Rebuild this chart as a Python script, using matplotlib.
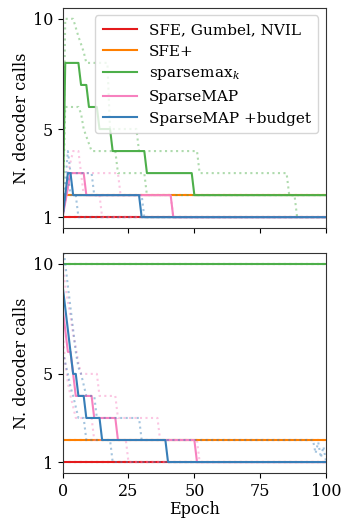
import numpy as np
import matplotlib
matplotlib.use("Agg")
import matplotlib.pyplot as plt

plt.rcParams['font.family'] = ['DejaVu Serif']
plt.rcParams['mathtext.fontset'] = 'dejavuserif'

colors = {"red": "#e41a1c", "orange": "#ff7f00", "green": "#4daf4a",
          "pink": "#f781bf", "blue": "#377eb8"}
labels = ["SFE, Gumbel, NVIL", "SFE+", "sparsemax$_k$", "SparseMAP", "SparseMAP +budget"]
keys = ["red", "orange", "green", "pink", "blue"]

# ---------------- top panel ----------------
top_red_x = [0, 100];                     top_red_y = [1, 1]
top_orange_x = [0, 100];                  top_orange_y = [2, 2]
top_green_x = [0, 1, 6, 7, 9, 10, 13, 14, 18, 19, 31, 32, 49, 50, 100]
top_green_y = [1, 8, 8, 7, 7, 6, 6, 5, 5, 4, 4, 3, 3, 2, 2]
top_green_a_x = [0, 1, 4, 6, 8, 9, 17, 18, 28, 29, 51, 52, 85, 86, 100]
top_green_a_y = [1, 10, 10, 9.2, 8.5, 8, 8, 5, 5, 4, 4, 3, 3, 2, 2]
top_green_b_x = [0, 1, 6, 7, 8, 9.5, 11, 20, 21, 31, 32, 88, 89, 100]
top_green_b_y = [1, 6, 6, 5.7, 5, 4.5, 4, 4, 3, 3, 2, 2, 1, 1]
top_pink_x = [0, 3, 8, 9, 41, 42, 100]
top_pink_y = [1, 3, 3, 2, 2, 1, 1]
top_pink_a_x = [0, 2, 4, 6, 7, 8, 14, 15, 100]
top_pink_a_y = [1, 3, 4, 4, 3, 2, 2, 1, 1]
top_pink_b_x = [0, 3, 21, 22, 41, 42, 100]
top_pink_b_y = [1, 3, 3, 2, 2, 1, 1]
top_blue_x = [0, 2, 3, 4, 29, 30, 100]
top_blue_y = [1, 3, 3, 2, 2, 1, 1]
top_blue_a_x = [0, 2, 3, 11, 12, 30, 31, 100]
top_blue_a_y = [1, 4, 3, 3, 2, 2, 1, 1]
top_blue_b_x = [0, 2, 3, 5, 6, 100]
top_blue_b_y = [1, 3, 2, 2, 1, 1]

# ---------------- bottom panel ----------------
bot_red_x = [0, 100];                     bot_red_y = [1, 1]
bot_orange_x = [0, 100];                  bot_orange_y = [2, 2]
bot_green_x = [0, 100];                   bot_green_y = [10, 10]
bot_pink_x = [0, 2, 3, 5, 11, 12, 20, 21, 50, 51, 100]
bot_pink_y = [8, 6, 6, 4, 4, 3, 3, 2, 2, 1, 1]
bot_pink_a_x = [0, 1, 2, 3, 4, 5, 6, 7, 13, 14, 20, 21, 36, 37, 51, 52, 100]
bot_pink_a_y = [10, 9, 8.3, 7.6, 6.8, 6.2, 5.5, 5, 5, 4, 4, 3, 3, 2, 2, 1, 1]
bot_pink_b_x = [0, 1, 2, 3, 4, 5, 11, 12, 24, 25, 100]
bot_pink_b_y = [7, 5.5, 4.6, 4, 3.5, 3, 3, 2, 2, 1, 1]
bot_blue_x = [0, 4, 5, 6, 8, 9, 14, 15, 39, 40, 100]
bot_blue_y = [9, 5, 5, 4, 4, 3, 3, 2, 2, 1, 1]
bot_blue_a_x = [0, 1, 2, 3, 4, 5, 6, 7, 9, 12, 13, 29, 30, 95, 96, 97, 98, 99, 100]
bot_blue_a_y = [11, 10, 9, 8, 7, 6, 5.3, 5, 4, 4, 3, 3, 2, 2, 1.4, 1.9, 1.2, 1.7, 1]
bot_blue_b_x = [0, 1, 2, 3, 4, 5, 6, 8, 9, 18, 19, 100]
bot_blue_b_y = [6, 5.5, 5, 4.4, 4, 3.5, 3, 3, 2, 2, 1, 1]

top_series = {
    "red": [(top_red_x, top_red_y)] * 3,
    "orange": [(top_orange_x, top_orange_y)] * 3,
    "green": [(top_green_x, top_green_y), (top_green_a_x, top_green_a_y), (top_green_b_x, top_green_b_y)],
    "pink": [(top_pink_x, top_pink_y), (top_pink_a_x, top_pink_a_y), (top_pink_b_x, top_pink_b_y)],
    "blue": [(top_blue_x, top_blue_y), (top_blue_a_x, top_blue_a_y), (top_blue_b_x, top_blue_b_y)],
}
bot_series = {
    "red": [(bot_red_x, bot_red_y)] * 3,
    "orange": [(bot_orange_x, bot_orange_y)] * 3,
    "green": [(bot_green_x, bot_green_y)] * 3,
    "pink": [(bot_pink_x, bot_pink_y), (bot_pink_a_x, bot_pink_a_y), (bot_pink_b_x, bot_pink_b_y)],
    "blue": [(bot_blue_x, bot_blue_y), (bot_blue_a_x, bot_blue_a_y), (bot_blue_b_x, bot_blue_b_y)],
}

fig = plt.figure(figsize=(3.44, 5.21), dpi=100)
ax1 = fig.add_axes([0.182, 0.562, 0.766, 0.423])
ax2 = fig.add_axes([0.182, 0.092, 0.766, 0.423])

for ax, series in [(ax1, top_series), (ax2, bot_series)]:
    for k, lab in zip(keys, labels):
        (mx, my), (ax_, ay_), (bx_, by_) = series[k]
        ax.plot(ax_, ay_, ls=':', lw=1.5, color=colors[k], alpha=0.45)
        ax.plot(bx_, by_, ls=':', lw=1.5, color=colors[k], alpha=0.45)
        ax.plot(mx, my, ls='-', lw=1.5, color=colors[k], label=lab)
    ax.set_xlim(0, 100)
    ax.set_ylim(0.5, 10.5)
    ax.set_yticks([1, 5, 10])
    ax.set_xticks([0, 25, 50, 75, 100])
    ax.tick_params(labelsize=11.5, length=3.5)
    ax.set_ylabel("N. decoder calls", fontsize=11.5, labelpad=2)
    for s in ax.spines.values():
        s.set_color("#333333")

ax1.tick_params(labelbottom=False)
ax2.set_xlabel("Epoch", fontsize=11.5, labelpad=1)
ax1.legend(loc="upper right", fontsize=11, handlelength=2.2, labelspacing=0.5,
           borderpad=0.5)

fig.savefig("out.png", dpi=100)
